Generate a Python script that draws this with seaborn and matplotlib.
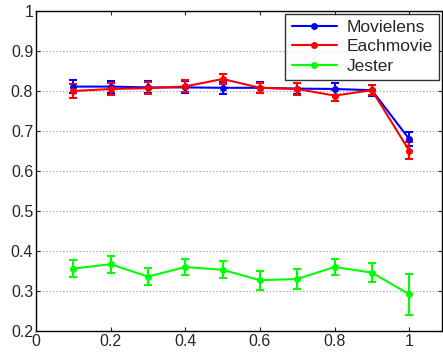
import numpy as np
import pandas as pd
import seaborn as sns
import matplotlib.pyplot as plt

x = [0.1, 0.2, 0.3, 0.4, 0.5, 0.6, 0.7, 0.8, 0.9, 1.0]
series = ['Movielens', 'Eachmovie', 'Jester']
movielens = [0.811, 0.811, 0.809, 0.809, 0.808, 0.808, 0.806, 0.805, 0.802, 0.680]
movielens_err = [0.016, 0.015, 0.015, 0.015, 0.015, 0.014, 0.014, 0.015, 0.014, 0.018]
eachmovie = [0.800, 0.805, 0.807, 0.8115, 0.830, 0.808, 0.805, 0.7885, 0.802, 0.651]
eachmovie_err = [0.018, 0.014, 0.015, 0.015, 0.012, 0.013, 0.014, 0.014, 0.013, 0.022]
jester = [0.356, 0.367, 0.336, 0.360, 0.353, 0.327, 0.330, 0.360, 0.346, 0.292]
jester_err = [0.021, 0.021, 0.022, 0.020, 0.021, 0.024, 0.024, 0.021, 0.024, 0.051]
colors = ['#0000ff', '#ff0000', '#00ff00']

sns.set_style('white')
plt.rcParams['font.family'] = ['Liberation Sans', 'DejaVu Sans']

df = pd.DataFrame({
    'x': x * 3,
    'value': movielens + eachmovie + jester,
    'err': movielens_err + eachmovie_err + jester_err,
    'dataset': [s for s in series for _ in x],
})

fig = plt.figure(figsize=(4.43, 3.58), dpi=100)
ax = fig.add_axes([36 / 443, 27 / 358, 406 / 443, 320 / 358])

for name, c in zip(series, colors):
    sub = df[df['dataset'] == name]
    ax.errorbar(sub['x'], sub['value'], yerr=sub['err'], fmt='none',
                ecolor=c, elinewidth=1.5, capsize=3, capthick=1.5, zorder=2)

sns.lineplot(data=df, x='x', y='value', hue='dataset', palette=colors,
             marker='o', markersize=5, markeredgewidth=0, linewidth=1.5,
             ax=ax, zorder=3)

ax.set_xlim(0, 1.088)
ax.set_ylim(0.2, 1.0)
ax.set_xticks([0, 0.2, 0.4, 0.6, 0.8, 1])
ax.set_xticklabels(['0', '0.2', '0.4', '0.6', '0.8', '1'])
ax.set_yticks([0.2, 0.3, 0.4, 0.5, 0.6, 0.7, 0.8, 0.9, 1])
ax.set_yticklabels(['0.2', '0.3', '0.4', '0.5', '0.6', '0.7', '0.8', '0.9', '1'])
ax.set_xlabel('')
ax.set_ylabel('')
ax.yaxis.grid(True, linestyle=(0, (1, 2)), color='#999999', linewidth=0.8)
ax.tick_params(direction='in', length=3, labelsize=11.5, top=True, right=True,
               bottom=True, left=True, pad=2)
for s in ax.spines.values():
    s.set_color('black')
    s.set_linewidth(1)

leg = ax.legend(loc='upper right', fontsize=12.5, frameon=True, fancybox=False,
                edgecolor='black', borderaxespad=0.15, handlelength=2.6,
                borderpad=0.35, labelspacing=0.25, handletextpad=0.6)
leg.get_frame().set_linewidth(1)

fig.savefig('out.png', dpi=100)
